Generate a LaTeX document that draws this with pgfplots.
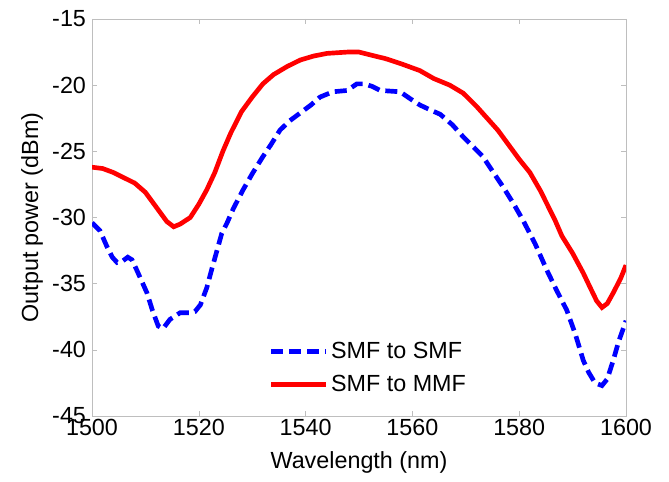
\documentclass[border=0pt]{standalone}
\usepackage{fontspec}
\setmainfont{Liberation Sans}
\usepackage{pgfplots}
\pgfplotsset{compat=1.18}

\definecolor{axgray}{RGB}{190,190,190}

\begin{document}
\begin{tikzpicture}
\begin{axis}[
    scale only axis,
    width=400.5pt,
    height=297.75pt,
    xmin=1500, xmax=1600,
    ymin=-45, ymax=-15,
    xtick={1500,1520,...,1600},
    ytick={-45,-40,...,-15},
    axis line style={axgray},
    tick style={axgray, thin},
    major tick length=4pt,
    tick align=inside,
    every tick label/.append style={font=\fontsize{17.5}{20}\selectfont},
    yticklabel style={xshift=-1pt},
    xticklabel style={yshift=1pt},
    /pgf/number format/assume math mode=true,
    /pgf/number format/1000 sep={},
    xlabel={Wavelength (nm)},
    ylabel={Output power (dBm)},
    label style={font=\fontsize{17.5}{20}\selectfont},
    xlabel style={at={(axis description cs:0.5,-0.118)}, anchor=center},
    ylabel style={at={(axis description cs:-0.1124,0.5)}, anchor=center},
    legend style={at={(rel axis cs:0.323,0.2)}, anchor=north west,
        draw=none, fill=none, font=\fontsize{17.5}{20}\selectfont,
        row sep=7pt},
    legend cell align=left,
    legend image code/.code={\draw[#1] (0cm,0cm) -- (1.45cm,0cm);},
]
\addplot[blue, line width=3.5pt, dash pattern=on 9pt off 4.5pt] coordinates {
  (1500,-30.4) (1501.5,-31.0) (1502.8,-32.2) (1503.8,-33.0) (1504.7,-33.4)
  (1505.7,-33.3) (1506.7,-33.0) (1507.5,-33.2) (1508.3,-33.9) (1509.3,-34.8)
  (1510.3,-35.7) (1511.3,-37.0) (1512.4,-38.2) (1513.3,-38.4) (1514.6,-37.7)
  (1516.5,-37.2) (1518.2,-37.2) (1519.3,-37.1) (1520.3,-36.6) (1521.5,-35.3)
  (1522.5,-33.8) (1523.4,-32.5) (1524.3,-31.2) (1525.3,-30.4) (1526.5,-29.3)
  (1528.3,-27.9) (1530,-26.7) (1532,-25.4) (1533.5,-24.5) (1535.2,-23.4)
  (1537,-22.7) (1539,-22.1) (1541,-21.5) (1542.7,-20.9) (1545.1,-20.5)
  (1547.8,-20.4) (1549.6,-19.9) (1551,-19.9) (1552.5,-20.1) (1554,-20.4)
  (1557.7,-20.5) (1559.5,-21.0) (1561.4,-21.5) (1563.5,-21.9) (1565.2,-22.2)
  (1567.5,-23.0) (1569.5,-23.9) (1571.5,-24.7) (1573.2,-25.4) (1575,-26.5)
  (1577,-27.7) (1579,-29.0) (1580.7,-30.2) (1583,-32.0) (1585.2,-34.0)
  (1587,-35.5) (1588.9,-37.0) (1590.5,-38.8) (1592,-40.8) (1593,-41.7)
  (1594.2,-42.5) (1595.5,-42.7) (1596.5,-42.2) (1597.6,-40.8) (1598.6,-39.4)
  (1600,-37.8)
};
\addlegendentry{SMF to SMF}

\addplot[red, line width=3.5pt] coordinates {
  (1500,-26.2) (1502,-26.3) (1504,-26.6) (1506,-27.0) (1508,-27.4)
  (1510,-28.1) (1512,-29.2) (1514,-30.3) (1515.3,-30.7) (1516.5,-30.5)
  (1518.4,-30.0) (1520,-29.0) (1521.5,-27.9) (1523,-26.6) (1524.5,-25.0)
  (1526,-23.6) (1528,-22.0) (1530,-20.9) (1532,-19.9) (1534,-19.2)
  (1536.5,-18.6) (1539,-18.1) (1541.5,-17.8) (1544,-17.6) (1547.8,-17.5)
  (1550,-17.5) (1552,-17.7) (1555,-18.0) (1558,-18.4) (1561.4,-18.9)
  (1564,-19.5) (1567,-20.0) (1569.5,-20.6) (1572,-21.6) (1574,-22.5)
  (1576,-23.4) (1578,-24.5) (1580,-25.6) (1582,-26.6) (1584,-28.0)
  (1586.7,-30.2) (1588,-31.4) (1590,-32.7) (1592,-34.2) (1593.3,-35.3)
  (1594.5,-36.3) (1595.5,-36.8) (1596.5,-36.5) (1597.6,-35.7) (1599,-34.6)
  (1600,-33.6)
};
\addlegendentry{SMF to MMF}
\end{axis}
\pgfresetboundingbox
\path (current axis.south west) ++(-69pt,-48.75pt) coordinate (bbsw);
\path (current axis.north east) ++(32.25pt,14.25pt) coordinate (bbne);
\useasboundingbox (bbsw) rectangle (bbne);
\end{tikzpicture}
\end{document}
